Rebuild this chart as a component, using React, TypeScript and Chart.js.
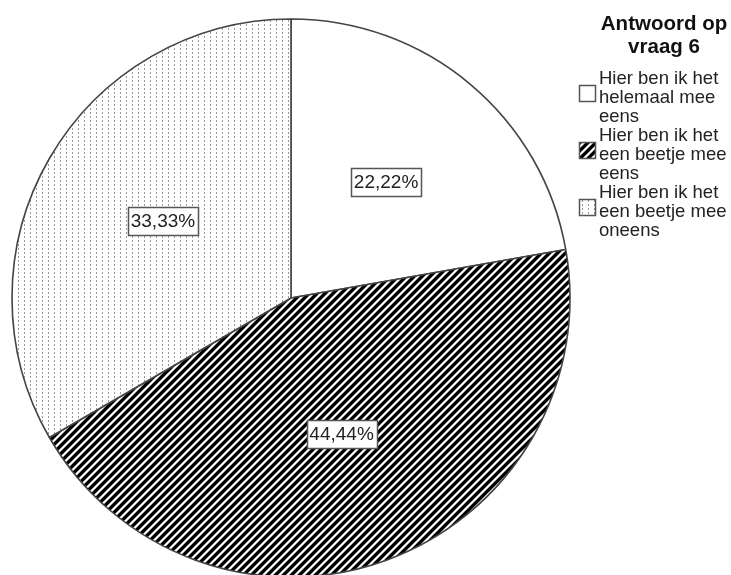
import React, { useEffect, useRef } from "react";
import { Chart, registerables } from "chart.js";

Chart.register(...registerables);

const categories: string[][] = [
  ["Hier ben ik het", "helemaal mee", "eens"],
  ["Hier ben ik het", "een beetje mee", "eens"],
  ["Hier ben ik het", "een beetje mee", "oneens"],
];
const values: number[] = [22.22, 44.44, 33.33];
const legendTitle: string[] = ["Antwoord op", "vraag 6"];

const FONT = "'Liberation Sans', Arial, sans-serif";

function makeStripe(): CanvasPattern | string {
  const P = 8;
  const c = document.createElement("canvas");
  c.width = P;
  c.height = P;
  const g = c.getContext("2d");
  if (!g) return "#000";
  g.fillStyle = "#fff";
  g.fillRect(0, 0, P, P);
  for (let x = 0; x < P; x++) {
    for (let y = 0; y < P; y++) {
      const k = (x + y) % P;
      if (k < 4) {
        g.fillStyle = "#000";
        g.fillRect(x, y, 1, 1);
      } else if (k === 4 || k === 7) {
        g.fillStyle = "#9a9a9a";
        g.fillRect(x, y, 1, 1);
      }
    }
  }
  return g.createPattern(c, "repeat") || "#000";
}

function makeDots(): CanvasPattern | string {
  const c = document.createElement("canvas");
  c.width = 6;
  c.height = 4;
  const g = c.getContext("2d");
  if (!g) return "#ccc";
  g.fillStyle = "#fff";
  g.fillRect(0, 0, 6, 4);
  g.fillStyle = "#999";
  g.fillRect(0, 0, 1, 2);
  return g.createPattern(c, "repeat") || "#ccc";
}

export default function App() {
  const ref = useRef<HTMLCanvasElement | null>(null);

  useEffect(() => {
    if (!ref.current) return;
    const fills = ["#ffffff", makeStripe(), makeDots()];

    const labelPlugin = {
      id: "boxLabels",
      afterDatasetsDraw(chart: any) {
        const ctx = chart.ctx as CanvasRenderingContext2D;
        const meta = chart.getDatasetMeta(0);
        ctx.save();
        ctx.font = `19px ${FONT}`;
        ctx.textAlign = "center";
        ctx.textBaseline = "middle";
        meta.data.forEach((arc: any, i: number) => {
          const p = arc.getProps(["x", "y", "startAngle", "endAngle", "outerRadius"], true);
          const mid = (p.startAngle + p.endAngle) / 2;
          const r = p.outerRadius * 0.53;
          const cx = p.x + Math.cos(mid) * r;
          const cy = p.y + Math.sin(mid) * r - 3;
          const txt = values[i].toFixed(2).replace(".", ",") + "%";
          const w = Math.round(ctx.measureText(txt).width + 6);
          const h = 28;
          const bx = Math.round(cx - w / 2) + 0.5;
          const by = Math.round(cy - h / 2) + 0.5;
          ctx.fillStyle = "#fff";
          ctx.fillRect(bx, by, w, h);
          ctx.strokeStyle = "#555";
          ctx.lineWidth = 1.5;
          ctx.strokeRect(bx, by, w, h);
          ctx.fillStyle = "#222";
          ctx.fillText(txt, cx, cy + 1);
        });
        ctx.restore();
      },
      afterDraw(chart: any) {
        const ctx = chart.ctx as CanvasRenderingContext2D;
        ctx.save();
        ctx.fillStyle = "#111";
        ctx.textAlign = "center";
        ctx.textBaseline = "alphabetic";
        ctx.font = `bold 20.5px ${FONT}`;
        ctx.fillText(legendTitle[0], 664, 30);
        ctx.fillText(legendTitle[1], 664, 53);
        ctx.textAlign = "left";
        ctx.font = `18.5px ${FONT}`;
        categories.forEach((lines, i) => {
          const base = 84 + i * 57;
          ctx.fillStyle = "#222";
          lines.forEach((ln, j) => ctx.fillText(ln, 599, base + j * 19));
          const by = base + 19 - 17.5;
          ctx.fillStyle = fills[i] as any;
          ctx.fillRect(579.5, by, 16, 16);
          ctx.strokeStyle = "#555";
          ctx.lineWidth = 1.5;
          ctx.strokeRect(579.5, by, 16, 16);
        });
        ctx.restore();
      },
    };

    const chart = new Chart(ref.current, {
      type: "pie",
      data: {
        labels: categories.map((l) => l.join(" ")),
        datasets: [
          {
            data: values,
            backgroundColor: fills as any,
            borderColor: "#444",
            borderWidth: 1.6,
            radius: 279,
          } as any,
        ],
      },
      options: {
        responsive: false,
        animation: false,
        devicePixelRatio: 1,
        layout: { padding: { left: 0, top: 21, right: 149, bottom: 0 } },
        plugins: {
          legend: { display: false },
          tooltip: { enabled: false },
          title: { display: false },
        },
      } as any,
      plugins: [labelPlugin],
    });
    return () => chart.destroy();
  }, []);

  return (
    <div style={{ position: "fixed", left: 0, top: 0, width: 731, height: 575, background: "#fff" }}>
      <canvas ref={ref} width={731} height={575} style={{ width: 731, height: 575, display: "block" }} />
    </div>
  );
}
